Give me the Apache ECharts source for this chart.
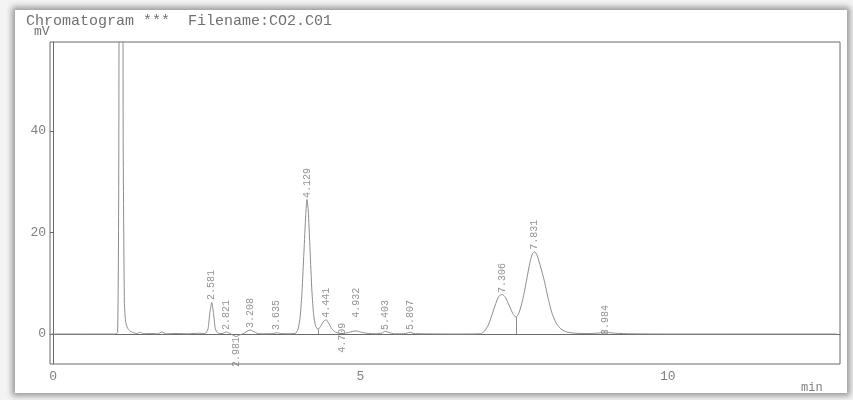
<!DOCTYPE html>
<html><head><meta charset="utf-8">
<script src="https://cdn.jsdelivr.net/npm/echarts@6/dist/echarts.min.js"></script>
<style>
html,body{margin:0;padding:0;background:#f4f4f4;width:853px;height:400px;overflow:hidden}
#paper{position:absolute;left:15px;top:10px;width:832px;height:383px;background:#fff;box-shadow:0 0 6px 3px rgba(0,0,0,0.38)}
#chart{position:absolute;left:0;top:0;width:853px;height:400px}
</style></head>
<body><div id="paper"></div><div id="chart"></div>
<script>
// Detector signal (time in min, signal in mV)
const trace = [
  [-0.04,0],[0.5,0],[1.0,0],[1.05,0.3],[1.07,40],[1.09,300],[1.10,400],[1.12,300],[1.14,40],[1.16,6],
  [1.18,2.5],[1.21,1.2],[1.25,0.6],[1.30,0.3],[1.36,0.1],[1.42,0.35],[1.46,0.05],[1.55,0.1],[1.70,0.05],[1.77,0.4],
  [1.84,0.05],[2.0,0.1],[2.2,0.05],[2.35,0.15],[2.47,0.1],[2.52,1.0],[2.55,4.2],[2.581,6.2],[2.61,4.0],[2.64,1.0],
  [2.68,0.2],[2.75,0.1],[2.821,0.4],[2.88,0.1],[2.94,-0.3],[2.981,-0.5],[3.03,-0.2],[3.10,0.1],[3.16,0.6],[3.208,0.8],
  [3.26,0.5],[3.33,0.1],[3.45,0.05],[3.58,0.1],[3.635,0.25],[3.70,0.1],[3.85,0.05],[3.95,0.2],[3.99,1.2],[4.02,3.5],
  [4.05,8.5],[4.08,16],[4.11,23.5],[4.129,26.5],[4.15,24.5],[4.18,16.5],[4.21,8.5],[4.24,3.6],[4.27,1.6],[4.31,0.9],
  [4.35,1.5],[4.40,2.5],[4.441,2.8],[4.48,2.2],[4.53,1.1],[4.59,0.4],[4.65,0.15],[4.709,0.1],[4.80,0.3],[4.88,0.55],
  [4.932,0.6],[5.00,0.4],[5.10,0.15],[5.25,0.05],[5.35,0.2],[5.403,0.55],[5.46,0.3],[5.55,0.05],[5.70,0.05],[5.76,0.2],
  [5.807,0.35],[5.87,0.1],[6.0,0.05],[6.5,0],[6.95,0.05],[7.02,0.6],[7.08,1.8],[7.14,3.8],[7.20,6.0],[7.25,7.4],
  [7.306,7.8],[7.36,7.2],[7.42,5.6],[7.48,4.0],[7.53,3.3],[7.58,4.2],[7.64,6.8],[7.70,10.5],[7.76,14.3],[7.80,15.9],
  [7.831,16.2],[7.87,15.6],[7.93,13.2],[7.99,10.5],[8.05,7.2],[8.11,4.3],[8.18,2.2],[8.26,1.0],[8.36,0.4],[8.50,0.15],
  [8.70,0.1],[8.88,0.2],[8.94,0.35],[8.984,0.4],[9.04,0.3],[9.15,0.15],[9.4,0.05],[10.0,0],[11.0,0],[12.0,0],[12.75,0]
];
// Peak annotations
const peakTimes  = [2.581, 2.821, 2.981, 3.208, 3.635, 4.129, 4.441, 4.709, 4.932, 5.403, 5.807, 7.306, 7.831, 8.984];
const peakLabels = ['2.581','2.821','2.981','3.208','3.635','4.129','4.441','4.709','4.932','5.403','5.807','7.306','7.831','8.984'];
const labelAtMV  = [6.7, 0.8, -6.5, 1.2, 0.8, 26.8, 3.2, -3.7, 3.2, 0.8, 0.8, 8.1, 16.6, -0.2];
// Peak separation drop lines
const dropTimes = [4.31, 7.53];
const dropMV    = [0.9, 3.3];
// Axis ticks
const xTicks = [0, 5, 10];
const yTicks = [0, 20, 40];

const MONO = '"Liberation Mono", "DejaVu Sans Mono", monospace';
const chart = echarts.init(document.getElementById('chart'), null, {renderer: 'canvas'});
chart.setOption({
  animation: false,
  backgroundColor: 'transparent',
  grid: {left: 50, right: 13, top: 42, bottom: 36, show: true, borderColor: '#6a6a6a', borderWidth: 1, backgroundColor: 'transparent'},
  xAxis: {
    type: 'value', min: -0.05, max: 12.8,
    axisLine: {show: true, lineStyle: {color: '#6a6a6a', width: 1}},
    axisTick: {show: false},
    splitLine: {show: false},
    axisLabel: {customValues: xTicks, color: '#808080', fontFamily: MONO, fontSize: 13, margin: 6}
  },
  yAxis: {
    type: 'value', min: -5.9, max: 57.5,
    axisLine: {show: true, lineStyle: {color: '#6a6a6a', width: 1}},
    axisTick: {show: true, customValues: yTicks, length: 3, lineStyle: {color: '#6a6a6a'}},
    splitLine: {show: false},
    axisLabel: {customValues: yTicks, color: '#808080', fontFamily: MONO, fontSize: 13, margin: 4}
  },
  graphic: [
    {type: 'text', left: 26, top: 14, style: {text: 'Chromatogram ***  Filename:CO2.C01', font: '15px ' + MONO, fill: '#707070'}},
    {type: 'text', left: 34, top: 25, style: {text: 'mV', font: '13px ' + MONO, fill: '#707070'}},
    {type: 'text', left: 801, top: 382, style: {text: 'min', font: '12px ' + MONO, fill: '#808080'}}
  ],
  series: [
    {
      type: 'line', data: trace, showSymbol: false, smooth: 0.2, clip: true,
      lineStyle: {color: '#8c8c8c', width: 1},
      markLine: {
        symbol: 'none', silent: true, animation: false,
        label: {show: false},
        lineStyle: {color: '#8c8c8c', width: 1, type: 'solid'},
        data: dropTimes.map((t, i) => [{coord: [t, 0]}, {coord: [t, dropMV[i]]}])
      }
    },
    {
      type: 'scatter', clip: false, symbolSize: 0, silent: true,
      data: peakTimes.map((t, i) => [t, labelAtMV[i]]),
      label: {
        show: true, position: [0, 0], rotate: 90, align: 'left', verticalAlign: 'middle',
        fontFamily: MONO, fontSize: 10, color: '#777',
        formatter: p => peakLabels[p.dataIndex]
      }
    }
  ]
});
</script>
</body></html>
